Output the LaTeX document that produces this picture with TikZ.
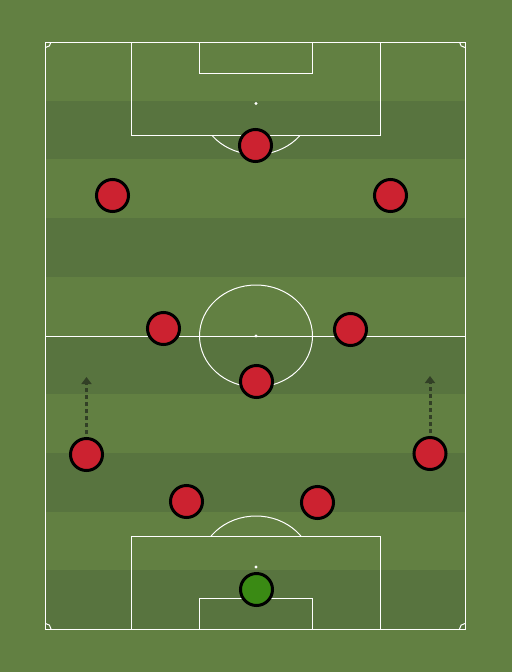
\documentclass[tikz,border=0pt]{standalone}
\usetikzlibrary{arrows.meta}
\definecolor{grasslight}{RGB}{98,128,66}
\definecolor{grassdark}{RGB}{88,116,63}
\definecolor{playerred}{RGB}{204,34,48}
\definecolor{keepergreen}{RGB}{58,138,20}
\definecolor{rundark}{RGB}{50,64,38}
\tikzset{
  pitchline/.style={draw=white, line width=1pt},
  player/.style={circle, draw=black, line width=3pt, fill=playerred, minimum size=32pt, inner sep=0pt},
  keeper/.style={player, fill=keepergreen},
  run/.style={draw=rundark, line width=3pt, dash pattern=on 4pt off 3pt, shorten <=3pt, -{Triangle[width=10pt,length=7pt]}},
  spot/.style={fill=white}
}
\begin{document}
\begin{tikzpicture}[x=1pt,y=-1pt]
\fill[grasslight] (0,0) rectangle (512,672);
\useasboundingbox (0,0) rectangle (512,672);
% stripes
\foreach \i in {1,3,5,7,9} {
  \fill[grassdark] (45.5,{42+\i*58.7}) rectangle (465,{42+(\i+1)*58.7});
}
% outline
\draw[pitchline] (45.5,42) rectangle (465,629);
\draw[pitchline] (45.5,336) -- (465,336);
\draw[pitchline] (256,336) circle[x radius=56.5, y radius=51];
\fill[spot] (256,336) circle[radius=1.6];
% top boxes
\draw[pitchline] (131,42) -- (131,135) -- (380,135) -- (380,42);
\draw[pitchline] (199.5,42) -- (199.5,73) -- (312,73) -- (312,42);
\fill[spot] (256,103.5) circle[radius=1.6];
\begin{scope}
  \clip (100,135.5) rectangle (420,200);
  \draw[pitchline] (256,103.5) circle[x radius=56.5, y radius=51];
\end{scope}
% bottom boxes
\draw[pitchline] (131,629) -- (131,536) -- (380,536) -- (380,629);
\draw[pitchline] (199.5,629) -- (199.5,598) -- (312,598) -- (312,629);
\fill[spot] (256,567) circle[radius=1.6];
\begin{scope}
  \clip (100,470) rectangle (420,535.5);
  \draw[pitchline] (256,567) circle[x radius=56.5, y radius=51];
\end{scope}
% corners
\begin{scope}
  \clip (45.5,42) rectangle (465,629);
  \draw[pitchline] (45.5,42) circle[radius=5.5];
  \draw[pitchline] (465,42) circle[radius=5.5];
  \draw[pitchline] (45.5,629) circle[radius=5.5];
  \draw[pitchline] (465,629) circle[radius=5.5];
\end{scope}
% players
\node[player] (cf) at (255.5,145.5) {};
\node[player] (lf) at (112.5,195.5) {};
\node[player] (rf) at (390.5,195.5) {};
\node[player] (lcm) at (163.5,328.5) {};
\node[player] (rcm) at (350.5,329.5) {};
\node[player] (dm) at (256.5,381.5) {};
\node[player] (lb) at (86.5,454.5) {};
\node[player] (rb) at (430,453.5) {};
\node[player] (lcb) at (186.5,501.5) {};
\node[player] (rcb) at (317.5,502.5) {};
\node[keeper] (gk) at (256.5,589.5) {};
% runs
\coordinate (lbto) at (86.5,377);
\coordinate (rbto) at (430,376);
\draw[run] (lb.north) -- (lbto);
\draw[run] (rb.north) -- (rbto);
\end{tikzpicture}
\end{document}
